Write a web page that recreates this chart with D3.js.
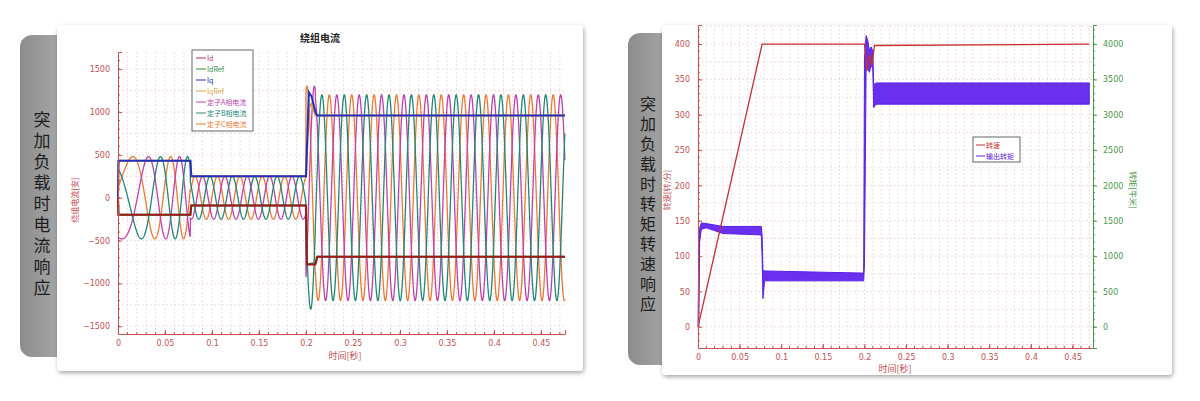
<!DOCTYPE html>
<html><head><meta charset="utf-8">
<script src="https://cdn.jsdelivr.net/npm/d3@7"></script>
<style>body{margin:0;background:#fff;font-family:"Noto Sans CJK SC","Noto Sans",sans-serif}</style>
</head><body>
<script>
// segments of the winding current chart (seconds)
const segT = [0, 0.077, 0.2, 0.21, 0.4755];
const segAmp = [480, 250, 1300, 1200];
const rampFreq = [10, 42]; // Hz at start / end of speed ramp
const steadyFreq = 42;
const rampEnd = 0.077;

// Id / Iq step traces [t, value]
const idT = [0, 0.0005, 0.077, 0.078, 0.2, 0.201, 0.21, 0.212, 0.4755];
const idV = [0, -200, -200, -90, -90, -780, -780, -690, -690];
const iqT = [0, 0.0005, 0.077, 0.078, 0.2, 0.203, 0.206, 0.21, 0.212, 0.4755];
const iqV = [0, 430, 430, 250, 250, 1230, 1180, 1000, 960, 960];
const idRefV = [0, -200, -200, -90, -90, -780, -760, -690, -690];
const iqRefV = [0, 430, 430, 250, 250, 1050, 1100, 960, 960, 960];

const legendLeft = ["Id", "IdRef", "Iq", "IqRef", "定子A相电流", "定子B相电流", "定子C相电流"];
const legendLeftColors = ["#b0306a", "#2e8b45", "#2030c0", "#e0a040", "#c040b0", "#208878", "#f07830"];

// speed / torque chart
const spT = [0, 0.077, 0.2, 0.203, 0.206, 0.209, 0.212, 0.47];
const spV = [0, 400, 400, 362, 385, 370, 398, 400];
const tqT = [0, 0.001, 0.002, 0.004, 0.01, 0.03, 0.076, 0.077, 0.078, 0.08, 0.199, 0.2, 0.202, 0.204, 0.206, 0.208, 0.21, 0.211, 0.212, 0.214, 0.47];
const tqLo = [0, 0, 1200, 1380, 1400, 1320, 1300, 1000, 400, 650, 650, 900, 3700, 3650, 3600, 3700, 3650, 3100, 3120, 3150, 3150];
const tqHi = [0, 900, 1400, 1470, 1460, 1420, 1420, 1300, 800, 790, 760, 3800, 4120, 4050, 3900, 3960, 3900, 3450, 3430, 3450, 3450];

const xTicks = [0, 0.05, 0.1, 0.15, 0.2, 0.25, 0.3, 0.35, 0.4, 0.45];
const yTicksLeft = [-1500, -1000, -500, 0, 500, 1000, 1500];
const yTicksSpeed = [0, 50, 100, 150, 200, 250, 300, 350, 400];
const yTicksTorque = [0, 500, 1000, 1500, 2000, 2500, 3000, 3500, 4000];

const axisRed = "#c85050";
const svg = d3.select("body").append("svg").attr("width", 1200).attr("height", 401);
const defs = svg.append("defs");
const f = defs.append("filter").attr("id", "sh").attr("x", -0.05).attr("y", -0.05).attr("width", 1.1).attr("height", 1.1);
f.append("feDropShadow").attr("dx", 1).attr("dy", 2).attr("stdDeviation", 2).attr("flood-opacity", 0.35);
const g = defs.append("linearGradient").attr("id", "gr").attr("x1", 0).attr("x2", 1);
g.append("stop").attr("offset", 0).attr("stop-color", "#8c8c8c");
g.append("stop").attr("offset", 1).attr("stop-color", "#b4b4b4");

function sideLabel(x, y, w, h, text, cx, y0, step, fs) {
    svg.append("rect").attr("x", x).attr("y", y).attr("width", w).attr("height", h)
        .attr("rx", 12).attr("fill", "url(#gr)");
    svg.append("g").selectAll("text").data(Array.from(text)).join("text")
        .attr("x", cx).attr("y", (d, i) => y0 + i * step)
        .attr("text-anchor", "middle").attr("font-size", fs).attr("fill", "#1e1e1e").text(d => d);
}
sideLabel(20, 35, 60, 322, "突加负载时电流响应", 42, 126, 21, 17);
sideLabel(628, 33, 60, 332, "突加负载时转矩转速响应", 648, 110, 20, 16);

svg.append("rect").attr("x", 57).attr("y", 25).attr("width", 526).attr("height", 346)
    .attr("rx", 4).attr("fill", "#fff").attr("filter", "url(#sh)");
svg.append("rect").attr("x", 662).attr("y", 25).attr("width", 510).attr("height", 350)
    .attr("rx", 4).attr("fill", "#fff").attr("filter", "url(#sh)");

function grid(gp, x, y, yt, y0, y1, x0, x1) {
    gp.append("g").selectAll("line").data(d3.range(0, 0.48, 0.01)).join("line")
        .attr("x1", d => x(d)).attr("x2", d => x(d)).attr("y1", y0).attr("y2", y1)
        .attr("stroke", "#eedede").attr("stroke-dasharray", "2,2");
    gp.append("g").selectAll("line").data(yt).join("line")
        .attr("y1", d => y(d)).attr("y2", d => y(d)).attr("x1", x0).attr("x2", x1)
        .attr("stroke", "#eedede").attr("stroke-dasharray", "2,2");
}
function styleAxis(a, color) {
    a.selectAll("path,line").attr("stroke", color);
    a.selectAll("text").attr("fill", color).attr("font-size", 8).attr("font-family", "DejaVu Sans");
}

// ---------- left chart ----------
const xL = d3.scaleLinear().domain([0, 0.4755]).range([118, 565]);
const yL = d3.scaleLinear().domain([-1590, 1700]).range([334, 52]);
const gl = svg.append("g");
grid(gl, xL, yL, d3.range(-1500, 1700, 250), 52, 334, 118, 565);

function theta(t) {
    const [f0, f1] = rampFreq;
    if (t <= rampEnd) return 2 * Math.PI * (f0 * t + (f1 - f0) * t * t / (2 * rampEnd));
    return 2 * Math.PI * ((f0 + f1) / 2 * rampEnd + steadyFreq * (t - rampEnd));
}
function ampAt(t) {
    for (let i = 0; i < segAmp.length; i++) if (t < segT[i + 1]) return segAmp[i];
    return segAmp[segAmp.length - 1];
}
const ts = d3.range(0, 0.4755, 0.0002);
const phaseOff = [-0.8 + 2.094, -0.8, -0.8 - 2.094];
const phaseCols = [legendLeftColors[4], legendLeftColors[5], legendLeftColors[6]];
const lineL = d3.line().x(d => xL(d[0])).y(d => yL(d[1]));
[2, 0, 1].forEach(k => {
    const pts = ts.map(t => [t, -ampAt(t) * Math.sin(theta(t) + phaseOff[k])]);
    gl.append("path").attr("d", lineL(pts)).attr("fill", "none")
        .attr("stroke", phaseCols[k]).attr("stroke-width", 1.3);
});
[[idT, idRefV, legendLeftColors[1]], [iqT, iqRefV, legendLeftColors[3]], [idT, idV, "#a01818"], [iqT, iqV, legendLeftColors[2]]]
    .forEach(([tt, vv, c]) => {
        gl.append("path").attr("d", lineL(tt.map((t, i) => [t, vv[i]]))).attr("fill", "none")
            .attr("stroke", c).attr("stroke-width", 2);
    });

const axL = gl.append("g").attr("transform", "translate(0,334)")
    .call(d3.axisBottom(xL).tickValues(xTicks).tickSize(-4).tickPadding(6).tickFormat(d3.format("~g")));
axL.append("g").selectAll("line").data(d3.range(0.01, 0.48, 0.01)).join("line")
    .attr("x1", d => xL(d)).attr("x2", d => xL(d)).attr("y2", -2);
styleAxis(axL, axisRed);
const ayL = gl.append("g").attr("transform", "translate(118,0)")
    .call(d3.axisLeft(yL).tickValues(yTicksLeft).tickSize(-4).tickPadding(8).tickFormat(d3.format("d")));
ayL.append("g").selectAll("line").data(d3.range(-1500, 1700, 100)).join("line")
    .attr("y1", d => yL(d)).attr("y2", d => yL(d)).attr("x2", 2);
styleAxis(ayL, axisRed);
gl.append("text").attr("x", 320).attr("y", 42).attr("text-anchor", "middle")
    .attr("font-size", 10).attr("font-weight", "bold").attr("fill", "#222").text("绕组电流");
gl.append("text").attr("x", 345).attr("y", 359).attr("text-anchor", "middle")
    .attr("font-size", 9).attr("fill", axisRed).text("时间[秒]");
gl.append("text").attr("transform", "translate(78,200) rotate(-90)").attr("text-anchor", "middle")
    .attr("font-size", 8).attr("fill", axisRed).text("绕组电流[安]");
const lg = gl.append("g").attr("transform", "translate(192,50)");
lg.append("rect").attr("width", 61).attr("height", 81).attr("fill", "#fff").attr("stroke", "#666");
legendLeft.forEach((n, i) => {
    lg.append("line").attr("x1", 4).attr("x2", 14).attr("y1", 8 + i * 11).attr("y2", 8 + i * 11)
        .attr("stroke", legendLeftColors[i]);
    lg.append("text").attr("x", 15).attr("y", 11 + i * 11).attr("font-size", 7)
        .attr("fill", legendLeftColors[i]).text(n);
});

// ---------- right chart ----------
const xR = d3.scaleLinear().domain([0, 0.4745]).range([698, 1093]);
const yR = d3.scaleLinear().domain([-30, 427]).range([348, 25]);
const yT = d3.scaleLinear().domain([-300, 4270]).range([348, 25]);
const gr = svg.append("g");
grid(gr, xR, yR, d3.range(-25, 427, 25), 25, 348, 698, 1093);

const area = d3.area().x(d => xR(d[0])).y0(d => yT(d[1])).y1(d => yT(d[2]));
gr.append("path").attr("d", area(tqT.map((t, i) => [t, tqLo[i], tqHi[i]])))
    .attr("fill", "#6a30f0").attr("stroke", "#5a20e8").attr("stroke-width", 1);
gr.append("path").attr("d", d3.line().x(d => xR(d[0])).y(d => yR(d[1]))(spT.map((t, i) => [t, spV[i]])))
    .attr("fill", "none").attr("stroke", "#c83030").attr("stroke-width", 1.3);

const axR = gr.append("g").attr("transform", "translate(0,348)")
    .call(d3.axisBottom(xR).tickValues(xTicks).tickSize(-4).tickPadding(6).tickFormat(d3.format("~g")));
axR.append("g").selectAll("line").data(d3.range(0.01, 0.48, 0.01)).join("line")
    .attr("x1", d => xR(d)).attr("x2", d => xR(d)).attr("y2", -2);
styleAxis(axR, axisRed);
const ayR = gr.append("g").attr("transform", "translate(698,0)")
    .call(d3.axisLeft(yR).tickValues(yTicksSpeed).tickSize(-4).tickPadding(8));
ayR.append("g").selectAll("line").data(d3.range(-20, 427, 10)).join("line")
    .attr("y1", d => yR(d)).attr("y2", d => yR(d)).attr("x2", 2);
styleAxis(ayR, axisRed);
const ayT = gr.append("g").attr("transform", "translate(1093,0)")
    .call(d3.axisRight(yT).tickValues(yTicksTorque).tickSize(4).tickPadding(6).tickFormat(d3.format("d")));
ayT.append("g").selectAll("line").data(d3.range(-200, 4270, 100)).join("line")
    .attr("y1", d => yT(d)).attr("y2", d => yT(d)).attr("x2", 2);
styleAxis(ayT, "#4a9a4a");
gr.append("text").attr("x", 895).attr("y", 372).attr("text-anchor", "middle")
    .attr("font-size", 9).attr("fill", axisRed).text("时间[秒]");
gr.append("text").attr("transform", "translate(670,190) rotate(-90)").attr("text-anchor", "middle")
    .attr("font-size", 8).attr("fill", axisRed).text("转速[转/分]");
gr.append("text").attr("transform", "translate(1130,190) rotate(90)").attr("text-anchor", "middle")
    .attr("font-size", 8).attr("fill", "#4a9a4a").text("转矩[牛米]");
const lr = gr.append("g").attr("transform", "translate(973,137)");
lr.append("rect").attr("width", 47).attr("height", 25).attr("fill", "#fff").attr("stroke", "#666");
[["转速", "#c83030"], ["输出转矩", "#5a20e8"]].forEach(([n, c], i) => {
    lr.append("line").attr("x1", 3).attr("x2", 12).attr("y1", 8 + i * 11).attr("y2", 8 + i * 11).attr("stroke", c);
    lr.append("text").attr("x", 13).attr("y", 11 + i * 11).attr("font-size", 7).attr("fill", c).text(n);
});
</script>
</body></html>
